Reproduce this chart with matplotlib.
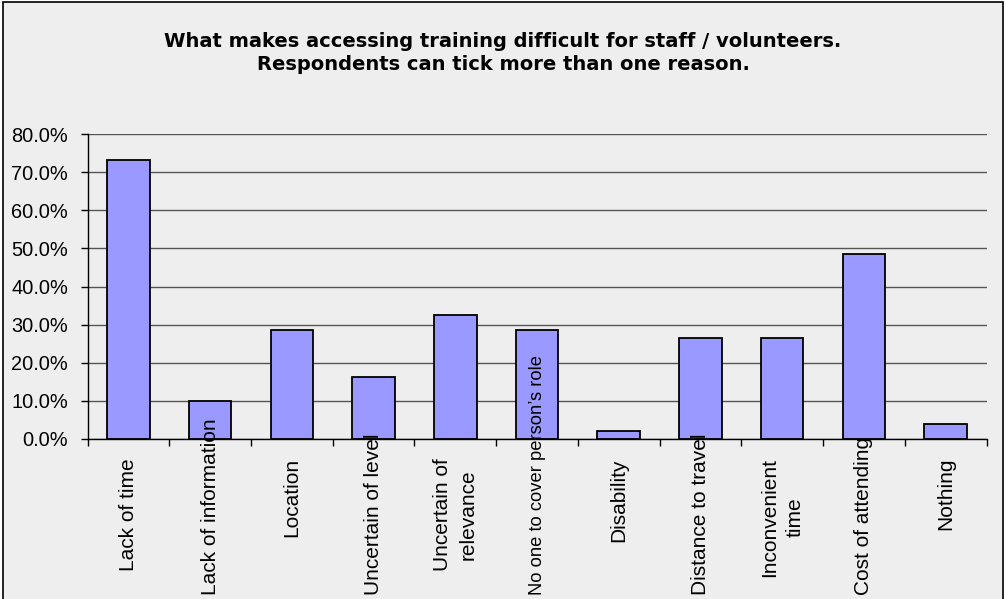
import matplotlib
matplotlib.use('Agg')
import matplotlib.pyplot as plt
from matplotlib.ticker import FuncFormatter, FixedLocator
from matplotlib.patches import Rectangle

# ---- data ----
categories = ["Lack of time", "Lack of information", "Location", "Uncertain of level",
              "Uncertain of\nrelevance", "No one to cover person\u2019s role", "Disability",
              "Distance to travel", "Inconvenient\ntime", "Cost of attending", "Nothing"]
values = [73.2, 10.0, 28.5, 16.3, 32.4, 28.5, 2.2, 26.4, 26.4, 48.6, 4.0]
y_ticks = [0, 10, 20, 30, 40, 50, 60, 70, 80]
title_text = ("What makes accessing training difficult for staff / volunteers.\n"
              "Respondents can tick more than one reason.")

W, H = 1006, 599
DPI = 100
BG = '#EEEEEE'
BAR = '#9999FF'
FONT = 'Liberation Sans'

fig = plt.figure(figsize=(W / DPI, H / DPI), dpi=DPI, facecolor='white')

# chart area border
border = Rectangle((3 / W, -0.05), 1000 / W, 1.05 - 2 / H,
                   transform=fig.transFigure, facecolor=BG,
                   edgecolor='black', linewidth=1.2, zorder=-10)
fig.add_artist(border)

left, right = 87.5, 986.5
top, bottom = 134, 439
ax = fig.add_axes([left / W, (H - bottom) / H, (right - left) / W, (bottom - top) / H])
ax.set_facecolor(BG)
ax.set_zorder(1)

x = list(range(len(categories)))
ax.bar(x, values, width=0.52, color=BAR, edgecolor='black', linewidth=1.3, zorder=3)

ax.set_xlim(-0.5, len(categories) - 0.5)
ax.set_ylim(0, 80)
ax.yaxis.set_major_locator(FixedLocator(y_ticks))
ax.yaxis.set_major_formatter(FuncFormatter(lambda v, p: f"{v:.1f}%"))
ax.grid(axis='y', color='#555555', linewidth=1.0, zorder=1)
ax.set_axisbelow(True)

for s in ['top', 'right']:
    ax.spines[s].set_visible(False)
for s in ['left', 'bottom']:
    ax.spines[s].set_linewidth(1.0)
    ax.spines[s].set_color('black')
    ax.spines[s].set_zorder(4)

ax.xaxis.set_major_locator(FixedLocator([i - 0.5 for i in range(len(categories) + 1)]))
ax.set_xticklabels([])
ax.tick_params(axis='x', direction='out', length=5, width=1, color='black')
ax.tick_params(axis='y', direction='out', length=5, width=1, color='black',
               labelsize=14.4, pad=9)
for lab in ax.get_yticklabels():
    lab.set_fontfamily(FONT)

# category labels: rotated; start 19 px below the axis, pushed up if they would
# run off the bottom; very long ones are shrunk to fit
LABEL_PT = 15.0
MAX_LEN = 240.0     # pixels
BOTTOM_MARGIN = 4.0 # pixels above figure bottom
texts = []
for i, c in enumerate(categories):
    t = ax.annotate(c, xy=(i, 0), xycoords=('data', 'axes fraction'),
                    xytext=(0, -19), textcoords='offset pixels',
                    rotation=90, ha='center', va='top', multialignment='center',
                    fontsize=LABEL_PT, family=FONT, linespacing=1.4, zorder=6,
                    annotation_clip=False)
    texts.append(t)

fig.text(0.5, 1 - 32 / H, title_text, ha='center', va='top', fontsize=14,
         fontweight='bold', family='DejaVu Sans', linespacing=1.3)

fig.canvas.draw()
r = fig.canvas.get_renderer()
for t in texts:
    bb = t.get_window_extent(r)
    if bb.height > MAX_LEN:
        t.set_fontsize(LABEL_PT * MAX_LEN / bb.height)
fig.canvas.draw()
for t in texts:
    bb = t.get_window_extent(r)
    if bb.y0 < BOTTOM_MARGIN:
        t.xyann = (0, -19 + (BOTTOM_MARGIN - bb.y0))

fig.savefig('out.png', dpi=DPI, facecolor='white')
